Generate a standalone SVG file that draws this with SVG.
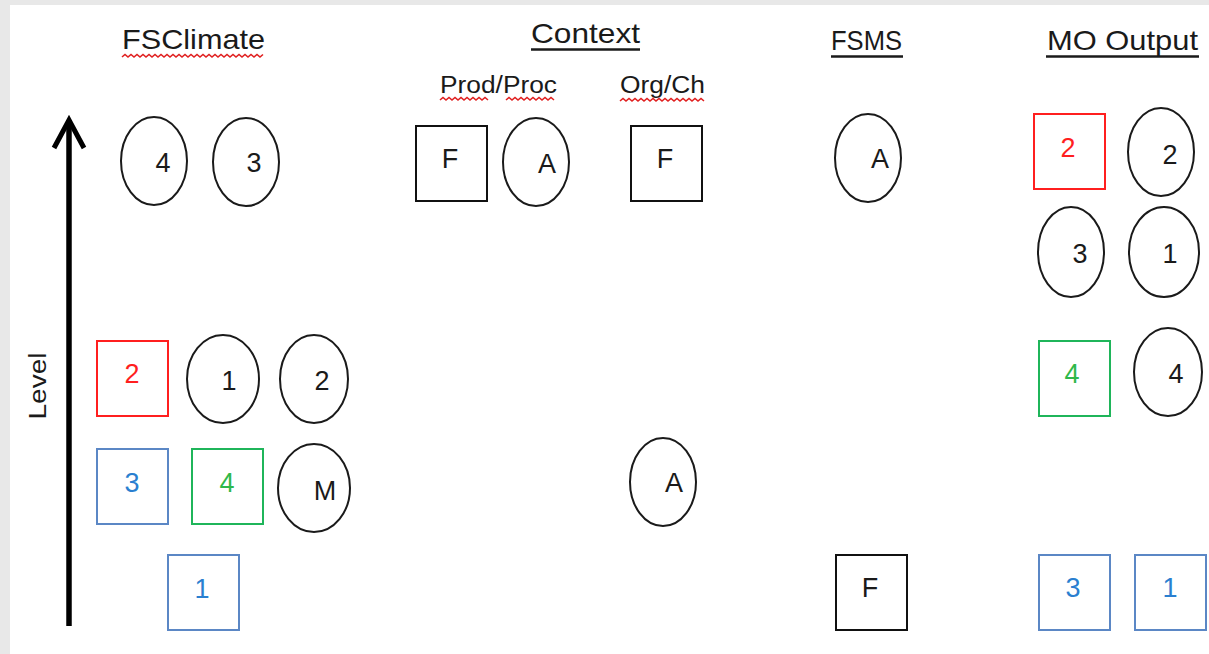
<svg xmlns="http://www.w3.org/2000/svg" width="1209" height="654" viewBox="0 0 1209 654">
<style>
text{font-family:"Liberation Sans","DejaVu Sans",sans-serif;fill:#1a1a1a}
.h{font-size:28px}
.s{font-size:23px}
.n{font-size:27px;text-anchor:middle}
.el{fill:none;stroke:#1a1a1a;stroke-width:2}
.sq{fill:none;stroke:#111;stroke-width:2}
.red{stroke:#ff1f1f}.redt{fill:#ff1f1f}
.blue{stroke:#5b87c5}.bluet{fill:#2a7fd0}
.green{stroke:#1fb55a}.greent{fill:#2fb84a}
.ul{stroke:#1a1a1a;stroke-width:2.5}
.wavy{fill:none;stroke:#e02020;stroke-width:1.6}
</style>
<defs>
<marker id="ah" markerUnits="userSpaceOnUse" markerWidth="40" markerHeight="40" viewBox="-34 -20 40 40" refX="0" refY="0" orient="auto">
<path d="M-28,-15 L0,0 L-28,15" fill="none" stroke="#000" stroke-width="5"/>
</marker>
</defs>
<rect width="1209" height="654" fill="#e8e8e8"/>
<rect x="10" y="5" width="1199" height="649" fill="#fff"/>

<g id="headers">
<text class="h" x="122" y="49" textLength="143" lengthAdjust="spacingAndGlyphs">FSClimate</text>
<path class="wavy" d="M122,57 l3,-2.5 l3,2.5 l3,-2.5 l3,2.5 l3,-2.5 l3,2.5 l3,-2.5 l3,2.5 l3,-2.5 l3,2.5 l3,-2.5 l3,2.5 l3,-2.5 l3,2.5 l3,-2.5 l3,2.5 l3,-2.5 l3,2.5 l3,-2.5 l3,2.5 l3,-2.5 l3,2.5 l3,-2.5 l3,2.5 l3,-2.5 l3,2.5 l3,-2.5 l3,2.5 l3,-2.5 l3,2.5 l3,-2.5 l3,2.5 l3,-2.5 l3,2.5 l3,-2.5 l3,2.5 l3,-2.5 l3,2.5 l3,-2.5 l3,2.5 l3,-2.5 l3,2.5 l3,-2.5 l3,2.5 l3,-2.5 l3,2.5 l3,-2.5"/>
<text class="h" x="531" y="43" textLength="109" lengthAdjust="spacingAndGlyphs">Context</text>
<line class="ul" x1="531" y1="49.5" x2="640" y2="49.5"/>
<text class="s" x="440" y="93" textLength="117" lengthAdjust="spacingAndGlyphs">Prod/Proc</text>
<path class="wavy" d="M440,100 l3,-2.5 l3,2.5 l3,-2.5 l3,2.5 l3,-2.5 l3,2.5 l3,-2.5 l3,2.5 l3,-2.5 l3,2.5 l3,-2.5 l3,2.5 l3,-2.5 l3,2.5 l3,-2.5 l3,2.5 M506,100 l3,-2.5 l3,2.5 l3,-2.5 l3,2.5 l3,-2.5 l3,2.5 l3,-2.5 l3,2.5 l3,-2.5 l3,2.5 l3,-2.5 l3,2.5 l3,-2.5 l3,2.5 l3,-2.5 l3,2.5"/>
<text class="s" x="620" y="93" textLength="85" lengthAdjust="spacingAndGlyphs">Org/Ch</text>
<path class="wavy" d="M620,101 l3,-2.5 l3,2.5 l3,-2.5 l3,2.5 l3,-2.5 l3,2.5 l3,-2.5 l3,2.5 l3,-2.5 l3,2.5 l3,-2.5 l3,2.5 l3,-2.5 l3,2.5 l3,-2.5 l3,2.5 l3,-2.5 l3,2.5 l3,-2.5 l3,2.5 l3,-2.5 l3,2.5 l3,-2.5 l3,2.5 l3,-2.5 l3,2.5 l3,-2.5 l3,2.5"/>
<text class="h" x="831" y="50" textLength="71" lengthAdjust="spacingAndGlyphs">FSMS</text>
<line class="ul" x1="831" y1="56.5" x2="903" y2="56.5"/>
<text class="h" x="1047" y="50" textLength="151" lengthAdjust="spacingAndGlyphs">MO Output</text>
<line class="ul" x1="1046" y1="56.5" x2="1199" y2="56.5"/>
<text class="s" transform="translate(46,386) rotate(-90)" text-anchor="middle" x="0" y="0" textLength="67" lengthAdjust="spacingAndGlyphs">Level</text>
</g>

<g id="connectors">
<line x1="69" y1="626" x2="69" y2="120" stroke="#000" stroke-width="5.5" marker-end="url(#ah)"/>
</g>

<g id="fsc-e4"><ellipse class="el" cx="154" cy="161" rx="33" ry="44"/><text class="n" x="163" y="172">4</text></g>
<g id="fsc-e3"><ellipse class="el" cx="246" cy="162" rx="33" ry="44"/><text class="n" x="254" y="172">3</text></g>
<g id="fsc-s2"><rect class="sq red" x="97" y="341" width="71" height="75"/><text class="n redt" x="132" y="383">2</text></g>
<g id="fsc-e1"><ellipse class="el" cx="223" cy="379" rx="36" ry="44"/><text class="n" x="229" y="390">1</text></g>
<g id="fsc-e2"><ellipse class="el" cx="314" cy="379" rx="34" ry="44"/><text class="n" x="322" y="390">2</text></g>
<g id="fsc-s3"><rect class="sq blue" x="97" y="449" width="71" height="75"/><text class="n bluet" x="132" y="492">3</text></g>
<g id="fsc-s4"><rect class="sq green" x="192" y="449" width="71" height="75"/><text class="n greent" x="227" y="492">4</text></g>
<g id="fsc-eM"><ellipse class="el" cx="314" cy="488" rx="36" ry="44"/><text class="n" x="325" y="500">M</text></g>
<g id="fsc-s1"><rect class="sq blue" x="168" y="555" width="71" height="75"/><text class="n bluet" x="202" y="598">1</text></g>

<g id="ctx-sF"><rect class="sq" x="416" y="126" width="71" height="75"/><text class="n" x="450" y="168">F</text></g>
<g id="ctx-eA"><ellipse class="el" cx="536" cy="162" rx="33" ry="44"/><text class="n" x="547" y="173">A</text></g>
<g id="org-sF"><rect class="sq" x="631" y="126" width="71" height="75"/><text class="n" x="665" y="168">F</text></g>
<g id="org-eA"><ellipse class="el" cx="663" cy="482" rx="33" ry="44"/><text class="n" x="674" y="492">A</text></g>

<g id="fsms-eA"><ellipse class="el" cx="868" cy="158" rx="33" ry="44"/><text class="n" x="880" y="168">A</text></g>
<g id="fsms-sF"><rect class="sq" x="836" y="555" width="71" height="75"/><text class="n" x="870" y="597">F</text></g>

<g id="mo-s2"><rect class="sq red" x="1034" y="114" width="71" height="75"/><text class="n redt" x="1068" y="157">2</text></g>
<g id="mo-e2"><ellipse class="el" cx="1161" cy="152" rx="33" ry="44"/><text class="n" x="1170" y="164">2</text></g>
<g id="mo-e3"><ellipse class="el" cx="1071" cy="252" rx="33" ry="45"/><text class="n" x="1080" y="263">3</text></g>
<g id="mo-e1"><ellipse class="el" cx="1164" cy="252" rx="35" ry="45"/><text class="n" x="1170" y="263">1</text></g>
<g id="mo-s4"><rect class="sq green" x="1039" y="341" width="71" height="75"/><text class="n greent" x="1072" y="383">4</text></g>
<g id="mo-e4"><ellipse class="el" cx="1168" cy="372" rx="34" ry="44"/><text class="n" x="1176" y="383">4</text></g>
<g id="mo-s3"><rect class="sq blue" x="1039" y="555" width="71" height="75"/><text class="n bluet" x="1073" y="597">3</text></g>
<g id="mo-s1"><rect class="sq blue" x="1135" y="555" width="71" height="75"/><text class="n bluet" x="1170" y="597">1</text></g>
</svg>
